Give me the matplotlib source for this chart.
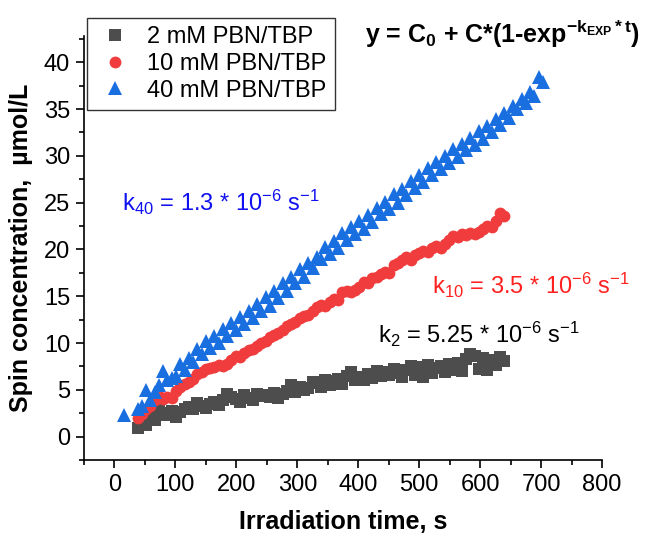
import matplotlib
matplotlib.use("Agg")
import matplotlib.pyplot as plt
from matplotlib.ticker import MultipleLocator

plt.rcParams['font.family'] = ['Liberation Sans', 'DejaVu Sans']
plt.rcParams['mathtext.fontset'] = 'custom'
plt.rcParams['mathtext.rm'] = 'Liberation Sans'
plt.rcParams['mathtext.it'] = 'Liberation Sans:italic'
plt.rcParams['mathtext.bf'] = 'Liberation Sans:bold'

# ---- data ----
t_2_10 = [38, 45, 52, 59, 66, 73, 80, 87, 94, 101, 108, 115, 122, 129, 136, 143, 150, 157,
          164, 171, 178, 185, 192, 199, 206, 213, 220, 227, 234, 241, 248, 255, 262, 269,
          276, 283, 290, 297, 304, 311, 318, 325, 332, 339, 346, 353, 360, 367, 374, 381,
          388, 395, 402, 409, 416, 423, 430, 437, 444, 451, 458, 465, 472, 479, 486, 493,
          500, 507, 514, 521, 528, 535, 542, 549, 556, 563, 570, 577, 584, 591, 598, 605,
          612, 619, 626, 633, 640]

c_2mM = [0.9, 1.6, 1.2, 2.1, 1.8, 2.8, 2.5, 2.3, 2.7, 2.1, 2.6, 3.0, 3.2, 2.9, 3.6, 3.3, 3.1, 3.5,
         3.7, 3.4, 3.9, 4.5, 4.2, 4.0, 3.7, 4.4, 4.1, 3.9, 4.6, 4.3, 4.4, 4.2, 4.7, 4.1,
         4.5, 4.9, 5.5, 4.8, 5.3, 5.0, 5.2, 5.8, 5.7, 5.3, 6.0, 5.5, 5.9, 6.2, 5.6, 6.5,
         6.9, 6.1, 6.4, 6.0, 6.7, 6.3, 7.0, 6.5, 6.9, 6.6, 7.2, 6.8, 6.4, 7.1, 7.5, 6.6,
         7.4, 6.4, 7.6, 6.8, 7.3, 7.5, 6.9, 7.8, 7.1, 7.9, 7.0, 8.3, 8.8, 8.6, 7.2, 8.4,
         7.1, 8.2, 7.6, 8.5, 8.1]

c_10mM = [2.0, 2.4, 2.9, 3.3, 3.9, 4.3, 4.0, 4.2, 4.1, 4.9, 5.3, 5.6, 5.8, 6.2, 6.7, 6.9, 7.2, 7.3,
          7.4, 7.6, 7.5, 7.8, 8.2, 8.6, 8.5, 8.9, 9.2, 9.4, 9.7, 10.0, 10.2, 10.6, 10.9, 11.1,
          11.4, 11.8, 12.0, 12.2, 12.7, 12.9, 13.0, 13.4, 13.8, 14.1, 14.0, 14.4, 14.7, 14.6, 15.5, 15.6,
          15.4, 15.7, 16.0, 16.5, 16.4, 16.9, 17.0, 17.4, 17.6, 17.5, 18.3, 18.6, 18.9, 19.2, 18.9, 19.4,
          19.6, 19.8, 19.7, 20.1, 20.4, 20.2, 20.6, 21.0, 21.4, 21.3, 21.6, 21.5, 21.7, 21.6, 21.9, 22.2,
          22.5, 22.4, 23.0, 23.9, 23.6]

t_40 = [15, 38, 45, 52, 59, 66, 73, 80, 87, 94, 101, 108, 115, 122, 129, 136, 143, 150, 157,
        164, 171, 178, 185, 192, 199, 206, 213, 220, 227, 234, 241, 248, 255, 262, 269,
        276, 283, 290, 297, 304, 311, 318, 325, 332, 339, 346, 353, 360, 367, 374, 381,
        388, 395, 402, 409, 416, 423, 430, 437, 444, 451, 458, 465, 472, 479, 486, 493,
        500, 507, 514, 521, 528, 535, 542, 549, 556, 563, 570, 577, 584, 591, 598, 605,
        612, 619, 626, 633, 640, 647, 654, 661, 668, 675, 682, 689, 696, 703]

c_40mM = [2.3, 3.0, 3.3, 5.0, 3.9, 4.8, 5.5, 7.0, 6.0, 6.3, 6.5, 7.8, 7.1, 8.4, 8.0, 9.4, 8.8, 10.2, 9.5,
          10.8, 10.0, 11.5, 10.8, 12.1, 11.4, 12.8, 12.0, 13.4, 12.7, 14.2, 13.4, 14.9, 14.0, 15.6, 14.8,
          16.4, 15.6, 17.1, 16.4, 17.9, 17.0, 18.6, 18.0, 19.2, 19.0, 20.3, 19.5, 20.9, 20.2, 21.8, 21.0,
          22.4, 21.6, 23.0, 22.2, 23.7, 22.9, 24.4, 23.8, 25.1, 24.3, 25.9, 25.0, 26.5, 25.8, 27.3, 26.6,
          27.9, 27.2, 28.7, 28.0, 29.3, 28.6, 30.0, 29.2, 30.7, 29.9, 31.3, 30.6, 31.9, 31.2, 32.6, 31.8,
          33.2, 32.5, 33.9, 33.3, 34.6, 34.0, 35.3, 35.0, 36.1, 35.6, 36.8, 36.4, 38.4, 37.9]

labels = ['2 mM PBN/TBP', '10 mM PBN/TBP', '40 mM PBN/TBP']

# ---- figure ----
fig = plt.figure(figsize=(6.47, 5.36), dpi=100)
ax = fig.add_axes([84/647, 1 - 460/536, (602-84)/647, (460-36)/536])

ax.plot(t_2_10, c_2mM, 's', color='#4d4d4d', ms=8.5, mew=0, label=labels[0])
ax.plot(t_2_10, c_10mM, 'o', color='#f03c3c', ms=8.5, mew=0, label=labels[1])
ax.plot(t_40, c_40mM, '^', color='#1a6fe0', ms=10, mew=0, label=labels[2])

ax.set_xlim(-50, 800)
ax.set_ylim(-2.5, 42.8)
ax.xaxis.set_major_locator(MultipleLocator(100))
ax.xaxis.set_minor_locator(MultipleLocator(50))
ax.yaxis.set_major_locator(MultipleLocator(5))
ax.yaxis.set_minor_locator(MultipleLocator(2.5))
ax.spines['top'].set_visible(False)
ax.spines['right'].set_visible(False)
for s in ('left', 'bottom'):
    ax.spines[s].set_linewidth(1.2)
ax.tick_params(which='major', direction='out', length=6, width=1.2, labelsize=17, pad=4)
ax.tick_params(which='minor', direction='out', length=3.5, width=1.2)

ax.set_xlabel('Irradiation time, s', fontsize=18, fontweight='bold', labelpad=10)
ax.set_ylabel('Spin concentration,  µmol/L', fontsize=18, fontweight='bold', labelpad=8)

leg = fig.legend(loc='upper left', bbox_to_anchor=(87/647, 1 - 18/536), fontsize=17,
                 frameon=True, fancybox=False, edgecolor='#333333', framealpha=1,
                 borderpad=0.35, labelspacing=0.2, handletextpad=0.5, handlelength=1.7,
                 borderaxespad=0)
leg.get_frame().set_linewidth(1.0)

ax.text(13, 25.0, r'k$_{\mathregular{40}}$ = 1.3 * 10$^{\mathregular{-6}}$ s$^{\mathregular{-1}}$',
        color='#1010f0', fontsize=17, ha='left', va='center')
ax.text(521, 16.2, r'k$_{\mathregular{10}}$ = 3.5 * 10$^{\mathregular{-6}}$ s$^{\mathregular{-1}}$',
        color='#ff2020', fontsize=17, ha='left', va='center')
ax.text(433, 10.9, r'k$_{\mathregular{2}}$ = 5.25 * 10$^{\mathregular{-6}}$ s$^{\mathregular{-1}}$',
        color='black', fontsize=17, ha='left', va='center')

fig.text(365/647, 1 - 34/536,
         r'y = C$_{\mathbf{0}}$ + C*(1-exp$^{\mathbf{-k_{EXP}*t}}$)',
         fontsize=18, fontweight='bold', ha='left', va='center')

fig.savefig('out.png', dpi=100)
